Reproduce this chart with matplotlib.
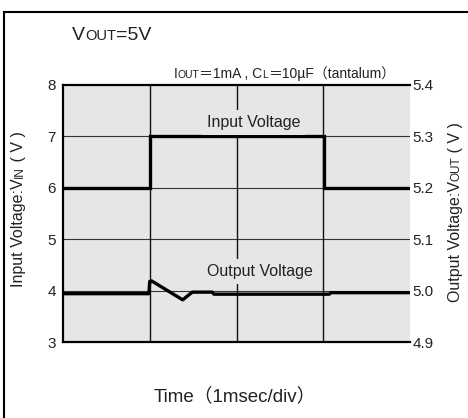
import math
import matplotlib
matplotlib.use("Agg")
import matplotlib.pyplot as plt
from matplotlib.transforms import IdentityTransform
from matplotlib.lines import Line2D

FAM = ["Liberation Sans", "Noto Sans CJK JP", "DejaVu Sans"]
plt.rcParams["font.family"] = FAM

# ---- data ----
input_t = [0, 1.0, 1.0, 3.01, 3.01, 4.0]
input_v = [6, 6, 7, 7, 6, 6]
output_t = [0, 0.99, 1.0, 1.02, 1.38, 1.49, 1.72, 1.74, 3.07, 3.09, 4.0]
output_v = [4.994, 4.994, 5.018, 5.019, 4.982, 4.997, 4.997, 4.993, 4.993, 4.996, 4.996]
left_ticks = [3, 4, 5, 6, 7, 8]
right_ticks = [4.9, 5.0, 5.1, 5.2, 5.3, 5.4]
x_grid = [0, 1, 2, 3, 4]

W, H = 468, 418
fig = plt.figure(figsize=(W / 100, H / 100), dpi=100)
fig.patch.set_facecolor("white")

ax = fig.add_axes([63 / W, 1 - 342 / H, (410 - 63) / W, (342 - 85) / H])
ax.set_facecolor("#e6e6e6")
ax.set_xlim(0, 4)
ax.set_ylim(3, 8)
ax.set_xticks([])
ax.set_yticks(left_ticks)
ax.tick_params(axis="y", length=0, pad=5, labelsize=11, colors="#222222")
for v in left_ticks[1:-1]:
    ax.axhline(v, color="#333333", lw=0.8, zorder=1)
for t in x_grid[1:-1]:
    ax.axvline(t, color="#111111", lw=1.0, zorder=1)
for s in ["top", "bottom", "left"]:
    ax.spines[s].set_linewidth(1.6)
ax.spines["right"].set_visible(False)

ax.plot(input_t, input_v, color="black", lw=2.4, zorder=3, solid_joinstyle="miter")

ax2 = ax.twinx()
ax2.set_ylim(4.9, 5.4)
ax2.set_yticks(right_ticks)
ax2.set_yticklabels([f"{v:.1f}" for v in right_ticks])
ax2.tick_params(axis="y", length=0, pad=2, labelsize=11, colors="#222222")
for s in ["top", "bottom", "left", "right"]:
    ax2.spines[s].set_visible(False)
ax2.plot(output_t, output_v, color="black", lw=2.4, zorder=3)

ax.text(2.2, 7.18, "Input Voltage", ha="center", va="baseline", fontsize=11.5,
        color="#222222", zorder=4,
        bbox=dict(boxstyle="square,pad=0.3", fc="#e6e6e6", ec="none"))
ax.text(2.27, 4.28, "Output Voltage", ha="center", va="baseline", fontsize=11.5,
        color="#222222", zorder=4,
        bbox=dict(boxstyle="square,pad=0.3", fc="#e6e6e6", ec="none"))

renderer = fig.canvas.get_renderer()


def width_of(s, size):
    tmp = fig.text(0, 0, s, fontsize=size, transform=IdentityTransform())
    w = tmp.get_window_extent(renderer).width
    tmp.remove()
    return w


def rich(x, y, parts, rotation=0, align="left"):
    """Place text pieces of different sizes along a common baseline (pixel coords from top-left)."""
    ang = math.radians(rotation)
    widths = [width_of(s, size) for s, size in parts]
    total = sum(widths)
    if align == "right":
        off = -total
    elif align == "center":
        off = -total / 2
    else:
        off = 0
    cx = x + off * math.cos(ang)
    cy = (H - y) + off * math.sin(ang)
    for (s, size), w in zip(parts, widths):
        fig.text(cx, cy, s, fontsize=size, rotation=rotation, rotation_mode="anchor",
                 ha="left", va="baseline", transform=IdentityTransform(), color="#222222")
        cx += w * math.cos(ang)
        cy += w * math.sin(ang)


rich(72, 40, [("V", 14), ("OUT", 10.5), ("=5V", 14)])
rich(395, 78, [("I", 10), ("OUT", 7.5), ("＝1mA , C", 10), ("L", 7.5), ("＝10µF（tantalum）", 10)], align="right")
rich(23, 209, [("Input Voltage:V", 11.5), ("IN", 8.5), (" ( V )", 11.5)], rotation=90, align="center")
rich(460, 212, [("Output Voltage:V", 11.5), ("OUT", 8.5), (" ( V )", 11.5)], rotation=90, align="center")
rich(235, 401, [("Time（1msec/div）", 13.5)], align="center")

# outer frame (left and top edges)
fig.add_artist(Line2D([4 / W, 4 / W], [0, 1 - 12 / H], transform=fig.transFigure, color="black", lw=1.5))
fig.add_artist(Line2D([4 / W, 1], [1 - 12 / H, 1 - 12 / H], transform=fig.transFigure, color="black", lw=1.5))

fig.savefig("out.png", dpi=100)
